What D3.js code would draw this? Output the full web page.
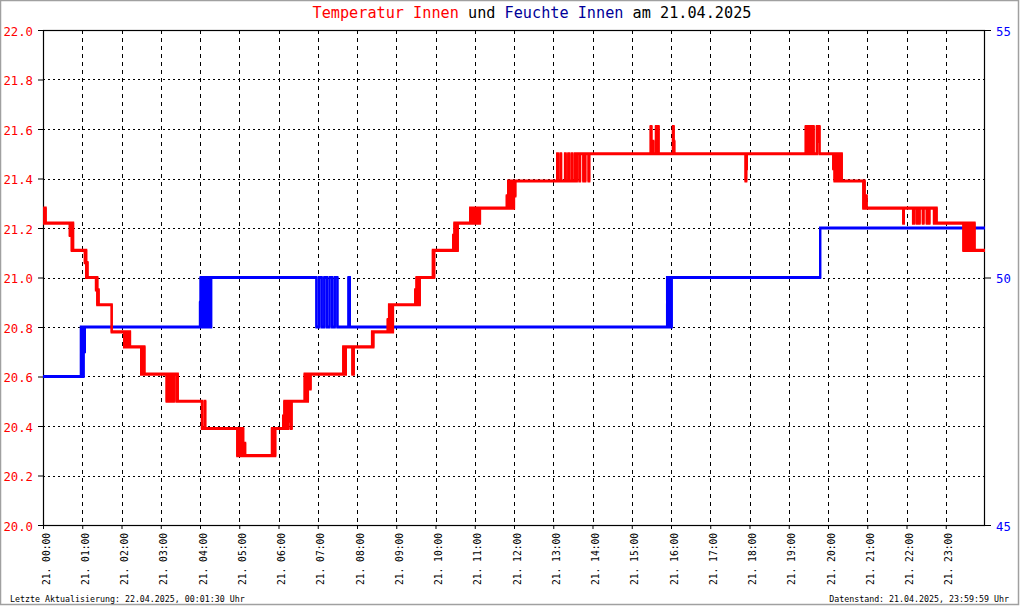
<!DOCTYPE html>
<html><head><meta charset="utf-8">
<script src="https://cdn.jsdelivr.net/npm/d3@7/dist/d3.min.js"></script>
<style>
html,body{margin:0;padding:0;background:#fff;}
svg{display:block;}
</style></head>
<body><svg id="c" width="1020" height="606"></svg>
<script>
// ---- data (minute of day, value) ----
const tempSeries = [
[0,21.22],[2,21.28],[4,21.22],
[41,21.17],[42,21.22],[44,21.11],[45,21.22],[46,21.11],
[64,21.06],[65,21.11],[66,21.0],[67,21.06],[68,21.0],
[81,20.95],[82,21.0],[83,20.89],[84,20.95],[85,20.89],
[105,20.78],
[124,20.72],[125,20.78],[126,20.72],[129,20.78],[130,20.72],[132,20.78],[133,20.72],
[150,20.61],[151,20.72],[152,20.61],[154,20.72],[155,20.61],
[189,20.5],[190,20.61],[191,20.5],[192,20.61],[195,20.5],[196,20.61],[199,20.5],[200,20.61],[204,20.5],[205,20.61],[206,20.5],
[243,20.39],[247,20.5],[248,20.39],
[297,20.28],[298,20.39],[300,20.28],[301,20.39],[302,20.33],[303,20.28],[305,20.39],[306,20.28],[308,20.33],[309,20.28],
[350,20.39],[351,20.28],[352,20.39],[354,20.28],[355,20.39],
[367,20.44],[368,20.39],[369,20.5],[370,20.39],[372,20.5],[373,20.39],[375,20.5],[376,20.42],[378,20.5],[379,20.39],[380,20.5],
[400,20.61],[401,20.5],[402,20.61],[404,20.5],[405,20.61],[408,20.55],[409,20.61],
[459,20.72],[460,20.61],[461,20.72],[462,20.61],[463,20.72],[473,20.61],[475,20.72],
[503,20.78],[504,20.72],[505,20.78],
[527,20.83],[528,20.78],[529,20.89],[530,20.78],[532,20.89],[533,20.78],[535,20.89],
[569,20.95],[570,20.89],[571,21.0],[572,20.89],[574,21.0],[575,20.89],[576,21.0],
[596,21.11],[597,21.0],[598,21.11],
[627,21.17],[628,21.11],[629,21.22],[630,21.11],[632,21.22],[633,21.11],[634,21.22],
[653,21.28],[654,21.22],[657,21.28],[658,21.22],[661,21.28],[662,21.22],[664,21.28],[667,21.22],[668,21.28],
[709,21.33],[710,21.28],[711,21.39],[712,21.28],[714,21.39],[715,21.28],[717,21.39],[718,21.28],[720,21.39],[721,21.33],[722,21.39],
[786,21.5],[787,21.39],[791,21.5],[792,21.39],[798,21.5],[799,21.39],[803,21.5],[804,21.39],[808,21.5],[809,21.39],[813,21.5],[814,21.39],[816,21.5],[820,21.39],[821,21.5],[826,21.39],[827,21.5],[828,21.39],[829,21.5],[834,21.39],[835,21.5],
[929,21.61],[930,21.5],[932,21.55],[933,21.5],[937,21.61],[938,21.5],[940,21.61],[941,21.5],
[963,21.61],[964,21.55],[965,21.5],
[1074,21.39],[1075,21.44],[1076,21.5],
[1166,21.61],[1167,21.5],[1168,21.61],[1169,21.5],[1171,21.61],[1172,21.5],[1173,21.61],[1174,21.5],[1177,21.61],[1178,21.5],[1183,21.61],[1184,21.55],[1186,21.61],[1187,21.5],
[1208,21.44],[1209,21.5],[1210,21.39],[1211,21.5],[1212,21.39],[1214,21.5],[1215,21.39],[1217,21.5],[1218,21.39],[1220,21.5],[1221,21.39],
[1254,21.28],[1255,21.39],[1256,21.28],[1258,21.33],[1259,21.28],
[1315,21.22],[1316,21.28],[1330,21.22],[1332,21.28],[1336,21.22],[1337,21.28],[1339,21.22],[1340,21.28],[1345,21.22],[1346,21.28],[1351,21.22],[1352,21.28],[1354,21.22],[1355,21.28],[1362,21.22],[1363,21.28],[1366,21.22],
[1407,21.11],[1408,21.22],[1409,21.11],[1410,21.22],[1412,21.11],[1413,21.22],[1415,21.11],[1416,21.22],[1418,21.11],[1419,21.22],[1421,21.11],[1422,21.22],[1424,21.11],
[1440,21.11]
];
const humSeries = [
[0,48],[58,49],[59,48],[60,49],[61,48],[62,49],[63,48.5],[64,49],
[240,49.5],[241,50],[243,49],[246,50],[248,49],[250,50],[251,49],[253,50],[255,49],[257,50],
[418,49],[422,50],[426,49],[430,50],[434,49],[438,50],[442,49],[446,50],[450,49],[467,50],[469,49],
[954,50],[955,49],[956,50],[957,49],[958,49.5],[959,50],[960,49],[961,50],
[1188,51],[1440,51]
];
const tempTicks = [20.0,20.2,20.4,20.6,20.8,21.0,21.2,21.4,21.6,21.8,22.0];
const humTicks = [45,50,55];
const hourTicks = [0,1,2,3,4,5,6,7,8,9,10,11,12,13,14,15,16,17,18,19,20,21,22,23];
const titleParts = [["Temperatur Innen","#ff0000"],[" und ","#000000"],["Feuchte Innen","#000099"],[" am 21.04.2025","#000000"]];
const footLeft = "Letzte Aktualisierung: 22.04.2025, 00:01:30 Uhr";
const footRight = "Datenstand: 21.04.2025, 23:59:59 Uhr";

// ---- layout ----
const L=43, R=985, T=30, B=525;
const mono = "'DejaVu Sans Mono','Liberation Mono',monospace";
const day0 = new Date(2025,3,21,0,0,0);
const toDate = m => new Date(day0.getTime()+m*60000);

const x = d3.scaleTime().domain([day0, toDate(1440)]).range([L,R]);
const yT = d3.scaleLinear().domain([20,22]).range([B,T]);
const yH = d3.scaleLinear().domain([45,55]).range([B,T]);

const svg = d3.select("#c");
svg.append("rect").attr("x",0.5).attr("y",0.5).attr("width",1018).attr("height",604)
  .attr("fill","#fff").attr("stroke","#a0a0a0").attr("stroke-width",1.5);

// grid
const g = svg.append("g");
g.selectAll(".hg").data(tempTicks.slice(1,-1)).join("line")
  .attr("x1",L).attr("x2",R).attr("y1",d=>Math.round(yT(d))+0.5).attr("y2",d=>Math.round(yT(d))+0.5)
  .attr("stroke","#000").attr("stroke-dasharray","2,3");
g.selectAll(".vg").data(hourTicks.slice(1)).join("line")
  .attr("x1",d=>Math.round(x(toDate(d*60)))+0.5).attr("x2",d=>Math.round(x(toDate(d*60)))+0.5)
  .attr("y1",T).attr("y2",B)
  .attr("stroke","#000").attr("stroke-dasharray","4,4");

// axes
const axL = svg.append("g").attr("transform",`translate(${L},0)`)
  .call(d3.axisLeft(yT).tickValues(tempTicks).tickSize(5).tickPadding(5).tickFormat(d3.format(".1f")));
axL.select(".domain").remove();
axL.selectAll("line").attr("stroke","#000");
axL.selectAll("text").attr("fill","#ff0000").attr("font-family",mono).attr("font-size","12.3px").attr("dy","0.42em");

const axR = svg.append("g").attr("transform",`translate(${R},0)`)
  .call(d3.axisRight(yH).tickValues(humTicks).tickSize(6).tickPadding(5).tickFormat(d3.format("d")));
axR.select(".domain").remove();
axR.selectAll("line").attr("stroke","#000");
axR.selectAll("text").attr("fill","#0000ff").attr("font-family",mono).attr("font-size","12.3px").attr("dy","0.42em");

const axB = svg.append("g").attr("transform",`translate(0,${B})`)
  .call(d3.axisBottom(x).tickValues(hourTicks.map(h=>toDate(h*60))).tickSize(4).tickFormat(d3.timeFormat("%d. %H:%M")));
axB.select(".domain").remove();
axB.selectAll("line").attr("stroke","#000");
axB.selectAll("text").attr("font-family",mono).attr("font-size","9.6px").attr("fill","#000")
  .attr("text-anchor","end").attr("y",0).attr("dy",0)
  .attr("transform","translate(6,8) rotate(-90)");

// frame
svg.append("rect").attr("x",L+0.5).attr("y",T+0.5).attr("width",R-L-1).attr("height",B-T)
  .attr("fill","none").attr("stroke","#000").attr("stroke-width",1.2);

// series (drawn twice with 1px vertical offset: 3px thick horizontals, 2px wide verticals)
const line = (ys) => d3.line().x(d=>x(toDate(d[0]))).y(d=>ys(d[1])).curve(d3.curveStepAfter);
[[humSeries,yH,"#0000ff"],[tempSeries,yT,"#ff0000"]].forEach(([data,ys,col])=>{
  [-0.5,0.5].forEach(off=>{
    svg.append("path").datum(data).attr("d",line(ys)).attr("transform",`translate(0,${off})`)
      .attr("fill","none").attr("stroke",col).attr("stroke-width",2.2).attr("stroke-linejoin","miter");
  });
});

// title
const tt = svg.append("text").attr("x",532).attr("y",18).attr("text-anchor","middle")
  .attr("font-family",mono).attr("font-size","15.2px").style("white-space","pre");
titleParts.forEach(p=>tt.append("tspan").attr("fill",p[1]).text(p[0]));

// footers
svg.append("text").attr("x",10).attr("y",602).attr("font-family",mono).attr("font-size","8.3px").attr("fill","#000").text(footLeft);
svg.append("text").attr("x",1009).attr("y",602).attr("text-anchor","end").attr("font-family",mono).attr("font-size","8.3px").attr("fill","#000").text(footRight);
</script></body></html>
